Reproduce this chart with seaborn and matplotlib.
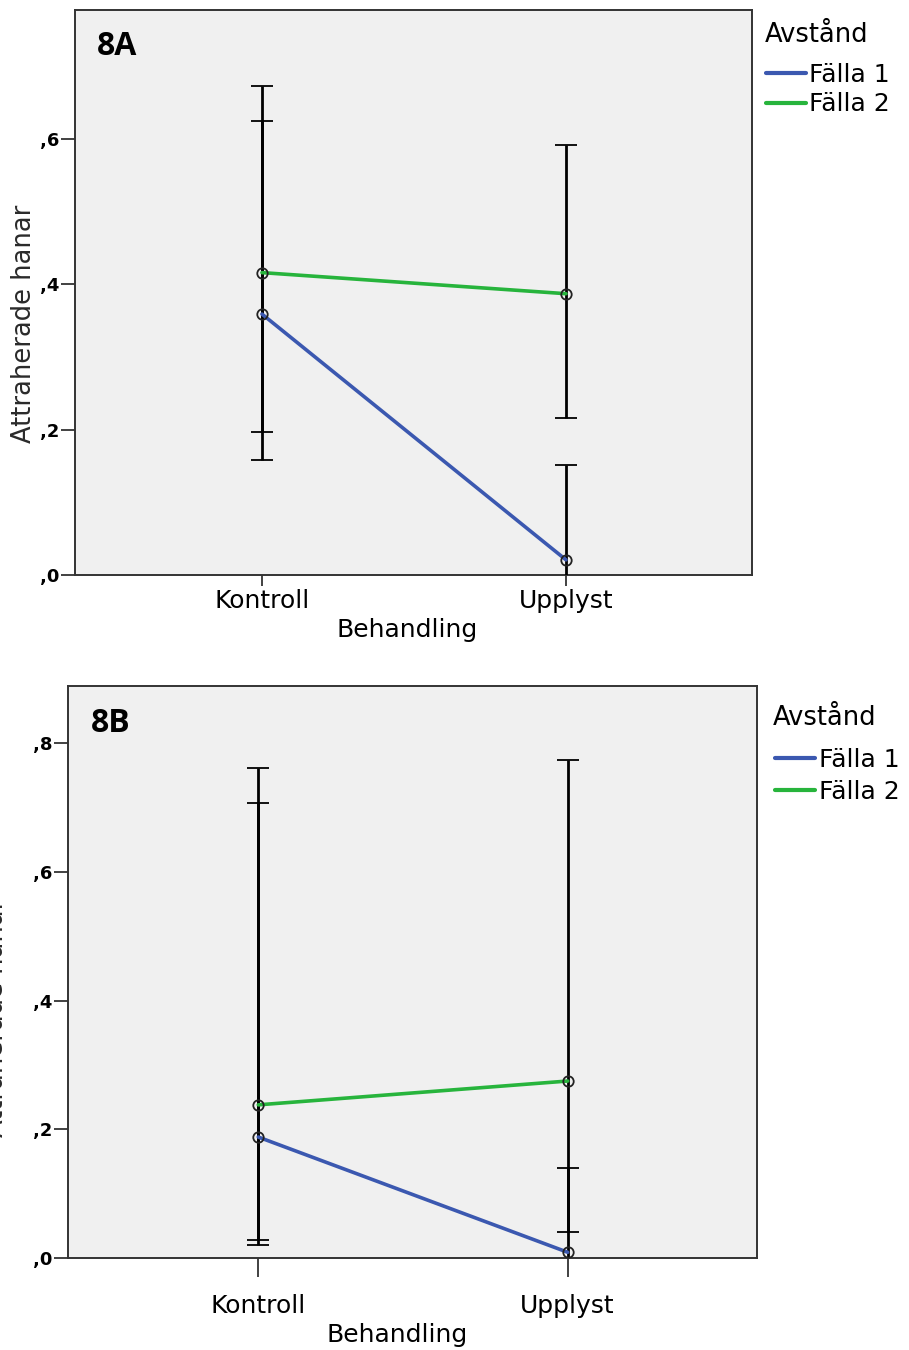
import pandas as pd
import seaborn as sns
import matplotlib.pyplot as plt
from matplotlib.lines import Line2D
from matplotlib.ticker import FuncFormatter

# Categories
behandling = ["Kontroll", "Upplyst"]
avstand = ["Fälla 1", "Fälla 2"]
colors = ["#3b58b0", "#27b43c"]

# Panel 8A: means and interval ends, in behandling order
a_mean_falla1 = [0.359, 0.021]
a_mean_falla2 = [0.416, 0.387]
a_low_falla1 = [0.197, -0.005]
a_high_falla1 = [0.625, 0.152]
a_low_falla2 = [0.158, 0.216]
a_high_falla2 = [0.673, 0.592]
a_yticks = [0.0, 0.2, 0.4, 0.6]

# Panel 8B
b_mean_falla1 = [0.188, 0.009]
b_mean_falla2 = [0.238, 0.275]
b_low_falla1 = [0.028, -0.12]
b_high_falla1 = [0.707, 0.140]
b_low_falla2 = [0.020, 0.040]
b_high_falla2 = [0.761, 0.774]
b_yticks = [0.0, 0.2, 0.4, 0.6, 0.8]


def make_frame(m1, m2, lo1, lo2, hi1, hi2):
    rows = []
    for i, b in enumerate(behandling):
        rows.append([b, avstand[0], m1[i], lo1[i], hi1[i]])
        rows.append([b, avstand[1], m2[i], lo2[i], hi2[i]])
    return pd.DataFrame(rows, columns=["Behandling", "Avstånd", "mean", "low", "high"])


def comma_fmt(v, pos):
    return "," + f"{v:.1f}".split(".")[1]


def draw_panel(ax, df, letter, yticks, ylim, xtick_len, xtick_pad, ylab_pos,
               xlab_pos, title_pos, leg_pos, leg_spacing):
    ax.set_facecolor("#f0f0f0")

    # black confidence bars
    for name in avstand:
        sub = df[df["Avstånd"] == name]
        xs = [behandling.index(b) for b in sub["Behandling"]]
        yerr = [sub["mean"] - sub["low"], sub["high"] - sub["mean"]]
        ax.errorbar(xs, sub["mean"], yerr=yerr, fmt="none", ecolor="black",
                    elinewidth=2, capsize=8, capthick=1.3, zorder=3)

    sns.pointplot(data=df, x="Behandling", y="mean", hue="Avstånd",
                  order=behandling, hue_order=avstand, palette=colors,
                  errorbar=None, markers="o", linewidth=2.6, markersize=7.5,
                  markerfacecolor="none", markeredgecolor="#222222",
                  markeredgewidth=1.3, legend=False, ax=ax)
    for line in ax.lines:
        line.set_zorder(4)

    ax.set_xlim(-0.615, 1.612)
    ax.set_ylim(*ylim)
    ax.set_yticks(yticks)
    ax.yaxis.set_major_formatter(FuncFormatter(comma_fmt))

    for side in ["left", "right", "top", "bottom"]:
        ax.spines[side].set_visible(True)
        ax.spines[side].set_color("#333333")
        ax.spines[side].set_linewidth(1.4)

    ax.tick_params(axis="y", length=10, width=1.3, pad=1, labelsize=13,
                   color="#333333", labelcolor="black")
    ax.tick_params(axis="x", length=xtick_len, width=1.3, pad=xtick_pad,
                   labelsize=18, color="#333333", labelcolor="black")
    for t in ax.get_yticklabels():
        t.set_fontweight("bold")

    ax.set_ylabel("Attraherade hanar", fontsize=18.5, color="#2a2a2a")
    ax.yaxis.set_label_coords(*ylab_pos)
    ax.yaxis.label.set_va("center")
    ax.set_xlabel("Behandling", fontsize=18, color="black")
    ax.xaxis.set_label_coords(*xlab_pos)
    ax.xaxis.label.set_va("center")

    ax.text(0.033, 0.935, letter, transform=ax.transAxes, fontsize=23,
            fontweight="bold", family="Open Sans", va="center", ha="left",
            color="black")

    # legend title placed on its own, entries below it
    ax.text(title_pos[0], title_pos[1], "Avstånd", transform=ax.transAxes,
            fontsize=18.5, va="center", ha="left", color="black")
    handles = [Line2D([], [], color=c, lw=3) for c in colors]
    leg = ax.legend(handles, avstand, loc="center left", bbox_to_anchor=leg_pos,
                    frameon=False, fontsize=18, handlelength=1.6,
                    handletextpad=0.15, labelspacing=leg_spacing,
                    borderpad=0, borderaxespad=0)
    for t in leg.get_texts():
        t.set_color("black")


def main():
    sns.set_theme(style="ticks")
    plt.rcParams["font.family"] = ["DejaVu Sans"]

    fig = plt.figure(figsize=(9.09, 13.5), dpi=100)
    ax_a = fig.add_axes([0.0825, 0.574, 0.7448, 0.4185])
    ax_b = fig.add_axes([0.0748, 0.0681, 0.758, 0.4237])

    df_a = make_frame(a_mean_falla1, a_mean_falla2, a_low_falla1,
                      a_low_falla2, a_high_falla1, a_high_falla2)
    df_b = make_frame(b_mean_falla1, b_mean_falla2, b_low_falla1,
                      b_low_falla2, b_high_falla1, b_high_falla2)

    draw_panel(ax_a, df_a, "8A", a_yticks, (0, 0.777), 8, 2,
               (-0.075, 0.445), (0.49, -0.097),
               (1.019, 0.956), (1.02, 0.859), 0.21)
    draw_panel(ax_b, df_b, "8B", b_yticks, (0, 0.8885), 14, 12,
               (-0.105, 0.42), (0.478, -0.135),
               (1.023, 0.944), (1.026, 0.843), 0.33)

    fig.savefig("out.png", dpi=100)


if __name__ == "__main__":
    main()
